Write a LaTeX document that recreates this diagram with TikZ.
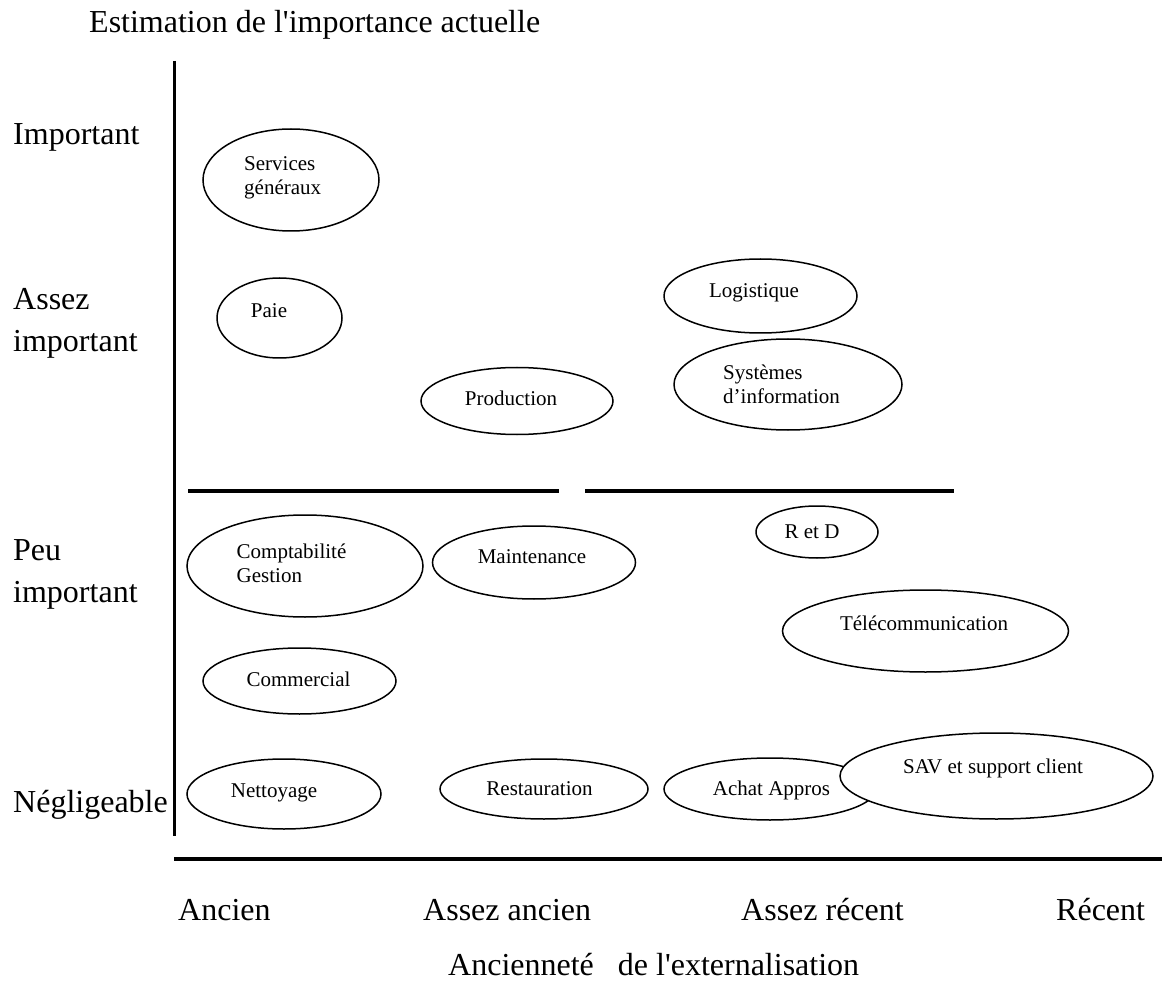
\documentclass[tikz,border=0pt]{standalone}
\usepackage{fontspec}
\setmainfont{Liberation Serif}
\usetikzlibrary{shapes.geometric}
\begin{document}
\begin{tikzpicture}[x=1pt, y=-1pt,
  axe/.style={line width=3.5pt},
  oval/.style={ellipse, draw, line width=1.5pt, inner sep=0pt},
  small/.style={font=\fontsize{21}{24}\selectfont, inner sep=0pt, align=left},
  big/.style={font=\fontsize{32}{42}\selectfont, inner sep=0pt, align=left, anchor=base west}]
  \useasboundingbox (0,0) rectangle (1162,981);
  \coordinate (O) at (174,61); \coordinate (P) at (174,836);
  \coordinate (Q) at (174,859); \coordinate (R) at (1162,859);
  \coordinate (S1) at (188,491); \coordinate (S2) at (559,491);
  \coordinate (S3) at (585,491); \coordinate (S4) at (954,491);
  \draw[line width=3pt] (O) -- (P);
  \draw[axe] (Q) -- (R);
  \draw[line width=4pt] (S1) -- (S2);
  \draw[line width=4pt] (S3) -- (S4);
  % axis labels
  \node[big] (titre) at (89,33) {Estimation de l\textquotesingle importance actuelle};
  \node[big] (imp) at (13,145) {Important};
  \node[big] (aimp) at (13,352) {Assez\\important};
  \node[big] (pimp) at (13,602) {Peu\\important};
  \node[big] (negl) at (13,812) {Négligeable};
  \node[big] (anc) at (178,920) {Ancien};
  \node[big] (aanc) at (423,920) {Assez ancien};
  \node[big] (arec) at (741,920) {Assez récent};
  \node[big] (rec) at (1056,920) {Récent};
  \node[big] (duree) at (448,975) {Ancienneté~~~de l\textquotesingle externalisation};
  % functions
  \node[oval, minimum width=176, minimum height=102] (serv) at (291,180) {};
  \node[small, anchor=base west] (servt) at (244,195) {Services\\généraux};
  \node[oval, minimum width=125, minimum height=80] (paie) at (279.5,318) {};
  \node[small, anchor=base] (paiet) at (269,318) {Paie};
  \node[oval, minimum width=192, minimum height=67] (prod) at (517,401) {};
  \node[small, anchor=base] (prodt) at (511,406) {Production};
  \node[oval, minimum width=193, minimum height=74] (logi) at (760.5,296) {};
  \node[small, anchor=base] (logit) at (754,298) {Logistique};
  \node[oval, minimum width=228, minimum height=91] (sys) at (788,384.5) {};
  \node[small, anchor=base west] (syst) at (723,403) {Systèmes\\d’information};
  \node[oval, minimum width=236, minimum height=102] (compta) at (305,566) {};
  \node[small, anchor=base west] (comptat) at (236.5,582) {Comptabilité\\Gestion};
  \node[oval, minimum width=203, minimum height=73] (maint) at (534,562.5) {};
  \node[small, anchor=base] (maintt) at (532,563) {Maintenance};
  \node[oval, minimum width=122, minimum height=52] (rd) at (817,532) {};
  \node[small, anchor=base] (rdt) at (812,538) {R et D};
  \node[oval, minimum width=286, minimum height=82] (tel) at (925.5,631) {};
  \node[small, anchor=base] (telt) at (924,630) {Télécommunication};
  \node[oval, minimum width=193, minimum height=66] (comm) at (299.5,681) {};
  \node[small, anchor=base] (commt) at (298.5,686) {Commercial};
  \node[oval, minimum width=194, minimum height=70] (nett) at (284,794) {};
  \node[small, anchor=base] (nettt) at (274,797) {Nettoyage};
  \node[oval, minimum width=208, minimum height=60] (resto) at (544,789) {};
  \node[small, anchor=base] (restot) at (539.5,795) {Restauration};
  \node[oval, minimum width=212, minimum height=62] (achat) at (770,789) {};
  \node[small, anchor=base] (achatt) at (771.5,795) {Achat Appros};
  \node[oval, fill=white, minimum width=313, minimum height=86] (sav) at (996.5,776) {};
  \node[small, anchor=base] (savt) at (993,773) {SAV et support client};
\end{tikzpicture}
\end{document}
